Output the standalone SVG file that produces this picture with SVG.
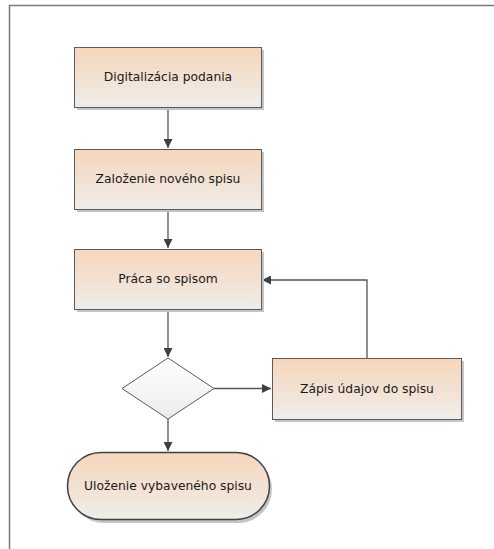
<svg xmlns="http://www.w3.org/2000/svg" width="494" height="549" viewBox="0 0 494 549">
  <defs>
    <linearGradient id="boxFill" x1="0" y1="0" x2="0" y2="1">
      <stop offset="0" stop-color="#f6d6bb"/>
      <stop offset="1" stop-color="#efedea"/>
    </linearGradient>
    <linearGradient id="decFill" x1="0" y1="0" x2="0" y2="1">
      <stop offset="0" stop-color="#ffffff"/>
      <stop offset="1" stop-color="#ececec"/>
    </linearGradient>
    <marker id="arrow" viewBox="0 0 10 10" refX="10" refY="5" markerWidth="9" markerHeight="9" markerUnits="userSpaceOnUse" orient="auto">
      <path d="M0,0 L10,5 L0,10 Z" fill="#404040"/>
    </marker>
  </defs>
  <style>
    .frame { fill: none; stroke: #7a7a7a; stroke-width: 1.5; }
    .box { fill: url(#boxFill); stroke: #5a5a5a; stroke-width: 1; }
    .shadow { fill: #c4c4c4; }
    .dec { fill: url(#decFill); stroke: #5a5a5a; stroke-width: 1; }
    .term { fill: url(#boxFill); stroke: #404040; stroke-width: 1.5; }
    .edge { fill: none; stroke: #555555; stroke-width: 1.3; marker-end: url(#arrow); }
    .label { font-family: "DejaVu Sans", sans-serif; font-size: 12.3px; fill: #1a1a1a; text-anchor: middle; dominant-baseline: central; }
  </style>

  <rect width="494" height="549" fill="#ffffff"/>
  <path class="frame" d="M9.5,549 V5.5 H494"/>

  <g id="connectors">
    <path class="edge" d="M168,107 V148"/>
    <path class="edge" d="M168,209 V248"/>
    <path class="edge" d="M168,309 V357"/>
    <path class="edge" d="M214,388.5 H271"/>
    <path class="edge" d="M367,358 V280 H262"/>
    <path class="edge" d="M168,419 V451"/>
  </g>

  <g id="digitalizacia">
    <rect class="shadow" x="77" y="50" width="187" height="60"/>
    <rect class="box" x="74.5" y="47.5" width="187" height="60"/>
    <text class="label" x="168" y="77">Digitalizácia podania</text>
  </g>

  <g id="zalozenie">
    <rect class="shadow" x="77" y="152" width="187" height="60"/>
    <rect class="box" x="74.5" y="149.5" width="187" height="60"/>
    <text class="label" x="168" y="179">Založenie nového spisu</text>
  </g>

  <g id="praca">
    <rect class="shadow" x="77" y="252" width="187" height="60"/>
    <rect class="box" x="74.5" y="249.5" width="187" height="60"/>
    <text class="label" x="168" y="279">Práca so spisom</text>
  </g>

  <g id="rozhodnutie">
    <polygon class="dec" points="168,358 214,388.5 168,419 122,388.5"/>
  </g>

  <g id="zapis">
    <rect class="shadow" x="275" y="361" width="189" height="61"/>
    <rect class="box" x="272.5" y="358.5" width="189" height="61"/>
    <text class="label" x="367" y="389">Zápis údajov do spisu</text>
  </g>

  <g id="ulozenie">
    <rect class="shadow" x="70" y="455" width="202" height="68" rx="34" ry="34"/>
    <rect class="term" x="67.5" y="452.5" width="202" height="67" rx="33.5" ry="33.5"/>
    <text class="label" x="168" y="486">Uloženie vybaveného spisu</text>
  </g>
</svg>
